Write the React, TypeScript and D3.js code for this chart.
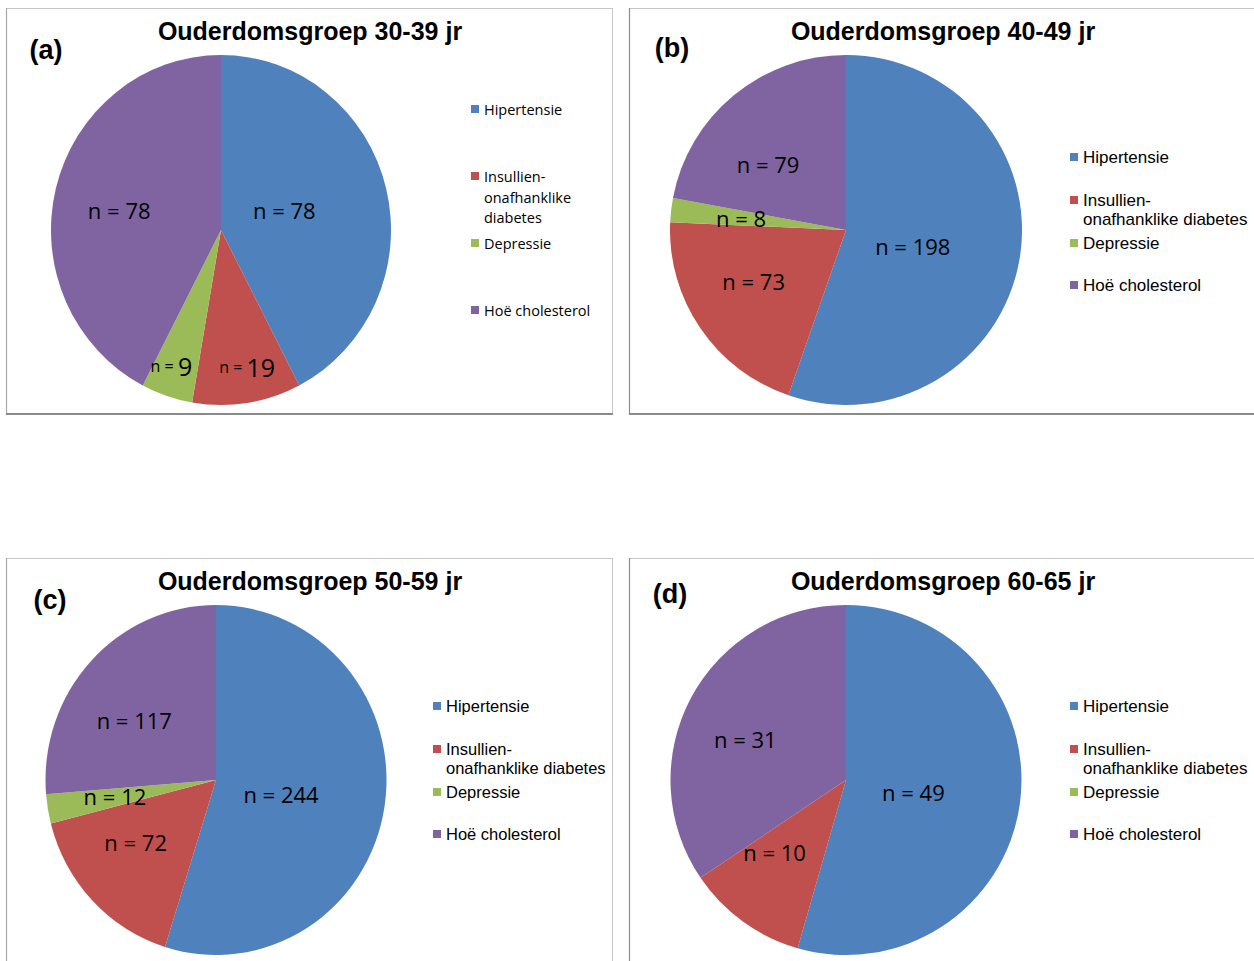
import React from "react";
import * as d3 from "d3";

// Diseases shown in every panel, in slice order (clockwise from 12 o'clock)
const categories = ["Hipertensie", "Insullien-onafhanklike diabetes", "Depressie", "Hoë cholesterol"];
const categoryColors = ["#4F81BD", "#C0504D", "#9BBB59", "#8064A2"];

// Number of participants per condition, per age group
const counts3039 = [78, 19, 9, 78];
const counts4049 = [198, 73, 8, 79];
const counts5059 = [244, 72, 12, 117];
const counts6065 = [49, 10, 0, 31];

const ageGroups = ["30-39", "40-49", "50-59", "60-65"];
const panelLetters = ["a", "b", "c", "d"];

type Panel = {
  counts: number[];
  box: { x: number; y: number; w: number };
  leftEdge: string;
  cx: number;
  cy: number;
  r: number;
  sx: number;
  titleX: number;
  titleY: number;
  letterX: number;
  letterY: number;
  labelPlace: ([number, number] | null)[]; // [radius fraction, angle nudge in degrees]
  smallPrefix: boolean[];
  legend: {
    x: number;
    font: string;
    size: number;
    rows: { lines: string[]; y: number[] }[];
  };
};

const legendWideRows = (base: number) => [
  { lines: ["Hipertensie"], y: [base] },
  { lines: ["Insullien-", "onafhanklike diabetes"], y: [base + 43, base + 62] },
  { lines: ["Depressie"], y: [base + 86] },
  { lines: ["Hoë cholesterol"], y: [base + 128] },
];

const panels: Panel[] = [
  {
    counts: counts3039,
    box: { x: 6, y: 8, w: 607 },
    leftEdge: "#a8a8a8",
    cx: 221, cy: 230, r: 175, sx: 170 / 175,
    titleX: 310, titleY: 31,
    letterX: 46, letterY: 50,
    labelPlace: [[0.39, -3.7], [0.8, -2.3], [0.83, 2], [0.61, -2.7]],
    smallPrefix: [false, true, true, false],
    legend: {
      x: 471,
      font: "'Open Sans', sans-serif",
      size: 14.5,
      rows: [
        { lines: ["Hipertensie"], y: [109] },
        { lines: ["Insullien-", "onafhanklike", "diabetes"], y: [176, 197, 217] },
        { lines: ["Depressie"], y: [243] },
        { lines: ["Hoë cholesterol"], y: [310] },
      ],
    },
  },
  {
    counts: counts4049,
    box: { x: 629, y: 8, w: 640 },
    leftEdge: "#8c8c8c",
    cx: 846, cy: 230, r: 175, sx: 176 / 175,
    titleX: 943, titleY: 31,
    letterX: 672, letterY: 48,
    labelPlace: [[0.39, 3.8], [0.6, 5.2], [0.6, 0], [0.58, -10]],
    smallPrefix: [false, false, false, false],
    legend: { x: 1070, font: "'Liberation Sans', Arial, sans-serif", size: 17, rows: legendWideRows(157) },
  },
  {
    counts: counts5059,
    box: { x: 6, y: 558, w: 607 },
    leftEdge: "#a8a8a8",
    cx: 216, cy: 780, r: 175, sx: 170.5 / 175,
    titleX: 310, titleY: 581,
    letterX: 50, letterY: 600,
    labelPlace: [[0.39, 3.3], [0.59, 6.5], [0.6, 0.5], [0.59, -7]],
    smallPrefix: [false, false, false, false],
    legend: { x: 433, font: "'Liberation Sans', Arial, sans-serif", size: 16.5, rows: legendWideRows(706) },
  },
  {
    counts: counts6065,
    box: { x: 629, y: 558, w: 640 },
    leftEdge: "#8c8c8c",
    cx: 846, cy: 780, r: 175, sx: 175.5 / 175,
    titleX: 943, titleY: 581,
    letterX: 670, letterY: 594,
    labelPlace: [[0.39, 2], [0.58, 8.6], null, [0.62, -5.7]],
    smallPrefix: [false, false, false, false],
    legend: { x: 1070, font: "'Liberation Sans', Arial, sans-serif", size: 17, rows: legendWideRows(706) },
  },
];

const W = 1254;
const H = 961;
const BOX_H = 406;

const pieGen = d3
  .pie<number>()
  .sort(null)
  .value((d) => d)
  .startAngle(0)
  .endAngle(2 * Math.PI);

function PiePanel({ p, i }: { p: Panel; i: number }) {
  const arcs = pieGen(p.counts);
  const arcGen = d3.arc<d3.PieArcDatum<number>>().innerRadius(0).outerRadius(p.r);
  const { x, y, w } = p.box;
  const bottom = y + BOX_H;
  return (
    <g>
      {/* chart frame */}
      <rect x={x + 0.5} y={y + 0.5} width={w - 1} height={BOX_H} fill="#ffffff" stroke="#c6c6c6" strokeWidth={1} />
      <line x1={x + 0.5} x2={x + 0.5} y1={y} y2={bottom} stroke={p.leftEdge} strokeWidth={1.2} />
      <line x1={x} x2={x + w} y1={bottom} y2={bottom} stroke="#8a8a8a" strokeWidth={2} />

      <text
        x={p.titleX}
        y={p.titleY}
        textAnchor="middle"
        dominantBaseline="central"
        fontFamily="'Liberation Sans', Arial, sans-serif"
        fontWeight="bold"
        fontSize={25}
        fill="#000"
      >
        {`Ouderdomsgroep ${ageGroups[i]} jr`}
      </text>
      <text
        x={p.letterX}
        y={p.letterY}
        textAnchor="middle"
        dominantBaseline="central"
        fontFamily="'Liberation Sans', Arial, sans-serif"
        fontWeight="bold"
        fontSize={27}
        fill="#000"
      >
        {`(${panelLetters[i]})`}
      </text>

      <g transform={`translate(${p.cx},${p.cy}) scale(${p.sx},1)`}>
        {arcs.map((a, k) =>
          a.value > 0 ? <path key={k} d={arcGen(a) || ""} fill={categoryColors[k]} /> : null
        )}
      </g>

      {arcs.map((a, k) => {
        const place = p.labelPlace[k];
        if (!place || a.value <= 0) return null;
        const ang = (a.startAngle + a.endAngle) / 2 + (place[1] * Math.PI) / 180;
        const dist = place[0] * p.r;
        const lx = p.cx + Math.sin(ang) * dist * p.sx;
        const ly = p.cy - Math.cos(ang) * dist;
        return (
          <text
            key={k}
            x={lx}
            y={ly}
            textAnchor="middle"
            dominantBaseline="central"
            fontFamily="'Open Sans', sans-serif"
            fontSize={22}
            fill="#000"
          >
            <tspan fontSize={p.smallPrefix[k] ? 16 : 22}>{"n = "}</tspan>
            <tspan fontSize={p.smallPrefix[k] ? 25 : 22}>{a.value}</tspan>
          </text>
        );
      })}

      {p.legend.rows.map((row, k) => (
        <g key={k}>
          <rect x={p.legend.x} y={row.y[0] - 4} width={8} height={8} fill={categoryColors[k]} />
          {row.lines.map((ln, j) => (
            <text
              key={j}
              x={p.legend.x + 13}
              y={row.y[j]}
              dominantBaseline="central"
              fontFamily={p.legend.font}
              fontSize={p.legend.size}
              fill="#000"
            >
              {ln}
            </text>
          ))}
        </g>
      ))}
    </g>
  );
}

export default function App() {
  return (
    <svg
      width={W}
      height={H}
      viewBox={`0 0 ${W} ${H}`}
      style={{ position: "absolute", left: 0, top: 0, background: "#ffffff" }}
    >
      <rect width={W} height={H} fill="#ffffff" />
      {panels.map((p, i) => (
        <PiePanel key={i} p={p} i={i} />
      ))}
    </svg>
  );
}
